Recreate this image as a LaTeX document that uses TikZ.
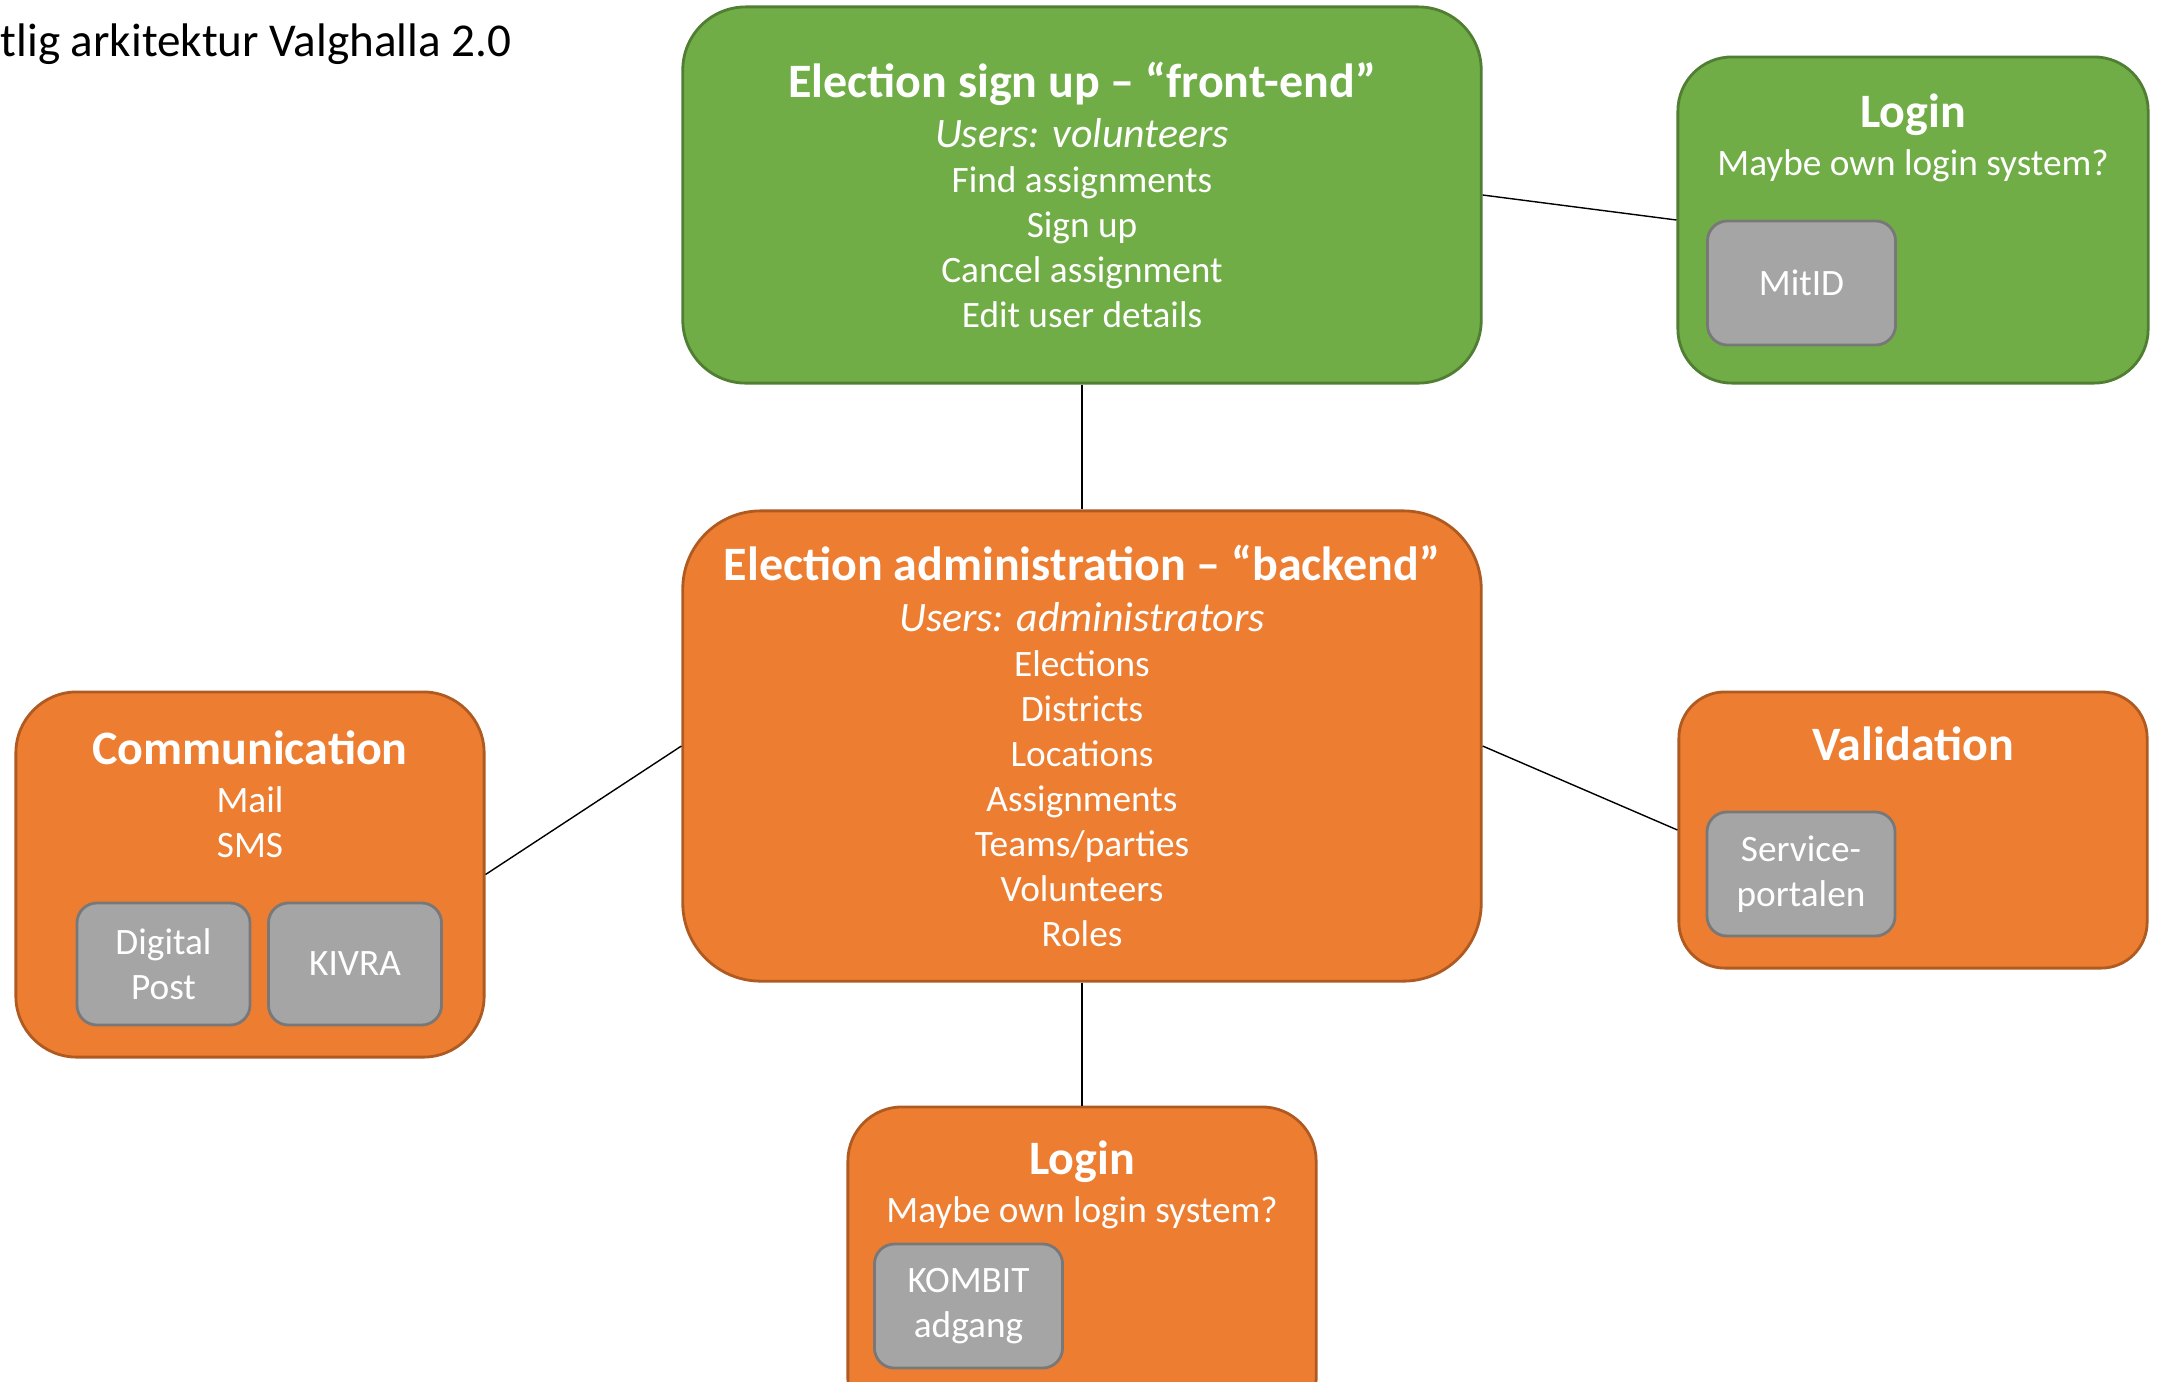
\documentclass[tikz,border=0pt]{standalone}
\usepackage{fontspec}
\setmainfont{Carlito}
\usetikzlibrary{positioning}
\definecolor{greenfill}{HTML}{70AD47}
\definecolor{greenline}{HTML}{507E32}
\definecolor{orangefill}{HTML}{ED7D31}
\definecolor{orangeline}{HTML}{AE5A21}
\definecolor{grayfill}{HTML}{A5A5A5}
\definecolor{grayline}{HTML}{787878}
\newcommand{\headfont}{\fontsize{13.65}{15}\bfseries\selectfont}
\newcommand{\bodyfont}{\fontsize{10.6}{12.8}\selectfont}
\newcommand{\userfont}{\fontsize{11.9}{12.8}\itshape\selectfont}

\begin{document}
\begin{tikzpicture}
    [x=0.01cm, y=-0.01cm, inner sep=0pt,
    greenbox/.style={rectangle,draw=greenline,fill=greenfill,line width=0.8pt},
    orangebox/.style={rectangle,draw=orangeline,fill=orangefill,line width=0.8pt},
    graybox/.style={rectangle,draw=grayline,fill=grayfill,line width=0.8pt,rounded corners=0.2cm,
        minimum width=1.88cm,minimum height=1.24cm,text=white,font=\bodyfont,align=center},
    boxtext/.style={text=white,font=\bodyfont,align=center},
    link/.style={draw=black,line width=0.4pt}]
    \useasboundingbox (0,0) rectangle (2158,1381);
    \clip (0,0) rectangle (2158,1381);
    \node at (0,56) [anchor=base west,font=\fontsize{13.4}{16}\selectfont] (title) {tlig arkitektur Valghalla 2.0};

    % front-end and backend
    \node at (1082,195) [greenbox,rounded corners=0.63cm,minimum width=7.98cm,minimum height=3.76cm,boxtext] (front)
        {{\headfont Election sign up – “front-end”}\\[1.6pt] {\userfont Users: volunteers}\\ Find assignments\\ Sign up\\ Cancel assignment\\ Edit user details};
    \node at (1082,746) [orangebox,rounded corners=0.78cm,minimum width=7.98cm,minimum height=4.70cm,boxtext] (back)
        {{\headfont Election administration – “backend”}\\[1.6pt] {\userfont Users: administrators}\\ Elections\\ Districts\\ Locations\\ Assignments\\ Teams/parties\\ Volunteers\\ Roles};

    % login for volunteers
    \node at (1913,220) [greenbox,rounded corners=0.54cm,minimum width=4.70cm,minimum height=3.26cm] (loginF) {};
    \node at (1913,127) [boxtext,anchor=base,font=\headfont] (loginFhead) {Login};
    \node at (1913,175) [boxtext,anchor=base] (loginFtext) {Maybe own login system?};
    \node at (1801.5,283) [graybox] (mitid) {MitID};

    % communication
    \node at (250,874.5) [orangebox,rounded corners=0.61cm,minimum width=4.68cm,minimum height=3.65cm] (comm) {};
    \node at (250,764) [boxtext,anchor=base,font=\headfont] (commhead) {Communication};
    \node at (250,857) [boxtext,anchor=base] (commtext) {Mail\\SMS};
    \node at (163.5,964) [graybox,minimum width=1.73cm,minimum height=1.22cm] (digipost) {Digital\\Post};
    \node at (355,964) [graybox,minimum width=1.73cm,minimum height=1.22cm] (kivra) {KIVRA};

    % validation
    \node at (1913,830) [orangebox,rounded corners=0.46cm,minimum width=4.68cm,minimum height=2.76cm] (valid) {};
    \node at (1913,760) [boxtext,anchor=base,font=\headfont] (validhead) {Validation};
    \node at (1801,874) [graybox] (serviceportal) {Service-\\portalen};

    % login for administrators
    \node at (1082,1270) [orangebox,rounded corners=0.54cm,minimum width=4.68cm,minimum height=3.26cm] (loginB) {};
    \node at (1082,1174) [boxtext,anchor=base,font=\headfont] (loginBhead) {Login};
    \node at (1082,1222) [boxtext,anchor=base] (loginBtext) {Maybe own login system?};
    \node at (968.5,1306) [graybox] (kombit) {KOMBIT\\adgang};

    \draw[link] (front.east) -- (loginF.west);
    \draw[link] (front.south) -- (back.north);
    \draw[link] (back.west) -- (comm.east);
    \draw[link] (back.east) -- (valid.west);
    \draw[link] (back.south) -- (loginB.north);
\end{tikzpicture}
\end{document}
